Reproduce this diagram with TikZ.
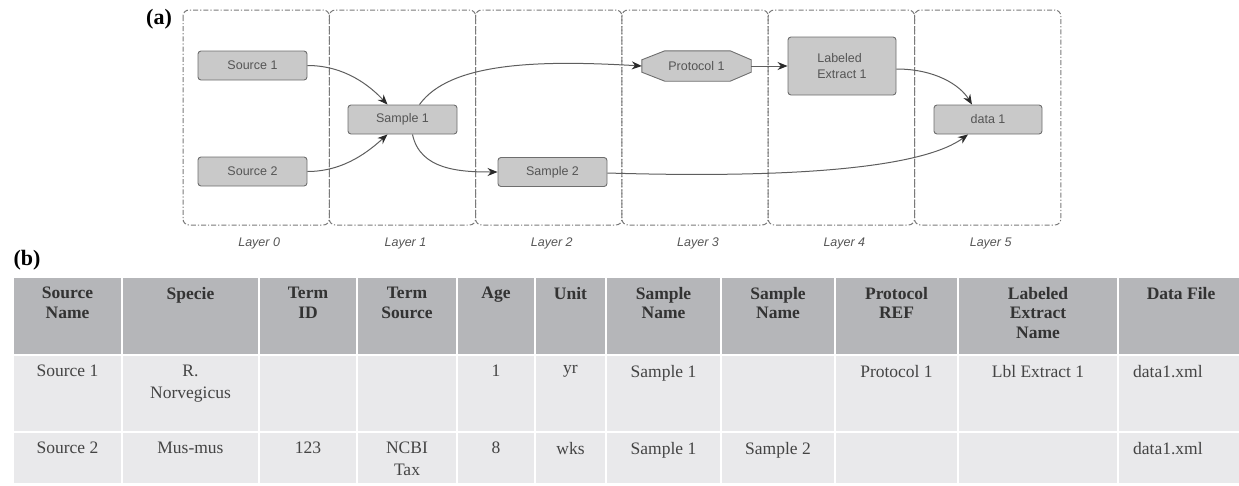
\documentclass[tikz,border=0pt]{standalone}
\usepackage{fontspec}
\setmainfont{Liberation Serif}
\setsansfont{Liberation Sans}
\usetikzlibrary{arrows.meta,calc,backgrounds}
\definecolor{nodefill}{HTML}{C9C9C9}
\definecolor{nodedraw}{HTML}{6E6E6E}
\definecolor{nodetext}{HTML}{555555}
\definecolor{layerline}{HTML}{7A7A7A}
\definecolor{edgecol}{HTML}{5E5E5E}
\definecolor{tipcol}{HTML}{2A2A2A}
\definecolor{hdrfill}{HTML}{B5B6B9}
\definecolor{bodyfill}{HTML}{E9E9EB}
\definecolor{hdrtext}{HTML}{333333}
\definecolor{bodytext}{HTML}{444444}
\tikzset{
  layerbox/.style={draw=layerline, line width=1pt, rounded corners=6pt,
    dash pattern=on 5pt off 2pt on 1.2pt off 2pt},
  layerlabel/.style={font=\sffamily\itshape\fontsize{12.5}{15}\selectfont, text=nodetext},
  box/.style={draw=nodedraw, fill=nodefill, rounded corners=3pt, line width=0.9pt,
    minimum width=109pt, minimum height=29pt, inner sep=0pt,
    font=\sffamily\fontsize{12.5}{16}\selectfont, text=nodetext},
  protobox/.style={minimum width=109pt, minimum height=30pt, inner sep=0pt,
    font=\sffamily\fontsize{12.5}{16}\selectfont, text=nodetext},
  octa/.style={draw=nodedraw, fill=nodefill, line width=0.9pt},
  edge/.style={draw=edgecol, line width=1pt, -{Stealth[length=10pt,width=8pt,color=tipcol]}},
  hdr/.style={anchor=north, align=center, inner sep=0pt, text=hdrtext,
    font=\bfseries\fontsize{17.5}{19.5}\selectfont},
  cell/.style={anchor=north, align=center, inner sep=0pt, text=bodytext,
    font=\fontsize{17.5}{21.5}\selectfont},
  panel/.style={font=\bfseries\fontsize{22}{24}\selectfont, inner sep=0pt}
}
\begin{document}
\begin{tikzpicture}[x=1pt,y=-1pt]
\useasboundingbox (0,0) rectangle (1239,485);
% panel labels
\node[panel] (pa) at (159,19) {(a)};
\node[panel] (pb) at (27,260) {(b)};
% layers
\foreach \i in {0,...,5} {
  \pgfmathsetmacro{\xl}{183+146.3*\i}
  \pgfmathsetmacro{\xr}{183+146.3*(\i+1)}
  \pgfmathsetmacro{\xc}{183+146.3*(\i+0.5)}
  \draw[layerbox] (\xl,10) rectangle (\xr,225);
  \node[layerlabel] (L\i) at (\xc+3,243) {Layer \i};
}
% nodes
\node[box] (s1) at (252.5,65.5) {Source 1};
\node[box] (s2) at (252.5,171.5) {Source 2};
\node[box] (sa1) at (402.5,119.5) {Sample 1};
\node[box] (sa2) at (552.5,172) {Sample 2};
\node[protobox] (p1) at (696.5,66) {Protocol 1};
\begin{scope}[on background layer]
\path[octa] ($(p1.north west)+(23,0)$) -- ($(p1.north east)+(-21,0)$)
  -- ($(p1.north east)+(0,9)$) -- ($(p1.south east)+(0,-9)$)
  -- ($(p1.south east)+(-21,0)$) -- ($(p1.south west)+(23,0)$)
  -- ($(p1.south west)+(0,-9)$) -- ($(p1.north west)+(0,9)$) -- cycle;
\end{scope}
\node[box, minimum width=108pt, minimum height=58pt, align=left] (le) at (842,66) {Labeled\\Extract 1};
\node[box, minimum width=108pt] (d1) at (988,119.5) {data 1};
% edges
\draw[edge] (s1.east) .. controls (345,65.5) and (370,86) .. ([xshift=-15pt]sa1.north);
\draw[edge] (s2.east) .. controls (345,171.5) and (370,150) .. ([xshift=-15pt]sa1.south);
\draw[edge] ([xshift=17pt]sa1.north) .. controls (450,62) and (540,60) .. (p1.west);
\draw[edge] ([xshift=10pt]sa1.south) .. controls (420,170) and (460,172) .. (sa2.west);
\draw[edge] (p1.east) -- (le.west);
\draw[edge] ([yshift=-3pt]le.east) .. controls (935,69) and (960,85) .. ([xshift=-16pt]d1.north);
\draw[edge] ([yshift=-1pt]sa2.east) .. controls (807,179) and (925,166) .. ([xshift=-20pt]d1.south);
% table backgrounds
\foreach \a/\b in {13/122,122/259,259/357,357/457,457/535,535/606,606/721,721/835,835/958,958/1118,1118/1241} {
  \fill[hdrfill] (\a+1,278) rectangle (\b-1,354);
  \fill[bodyfill] (\a+1,356) rectangle (\b-1,431);
  \fill[bodyfill] (\a+1,433) rectangle (\b-1,483);
}
% header
\foreach \x/\t [count=\i] in {67.5/{Source\\Name}, 190.5/{Specie}, 308/{Term\\ID},
  407/{Term\\Source}, 496/{Age}, 570.5/{Unit}, 663.5/{Sample\\Name}, 778/{Sample\\Name},
  896.5/{Protocol\\REF}, 1038/{Labeled\\Extract\\Name}, 1181/{Data File}}
  \node[hdr] (h\i) at (\x,287) {\t};
% row 1
\node[cell] (a1) at (67.5,365) {Source 1};
\node[cell] (a2) at (190.5,365) {R.\\Norvegicus};
\node[cell] (a5) at (496,365) {1};
\node[cell] (a6) at (570.5,365) {yr};
\node[cell] (a7) at (663.5,365) {Sample 1};
\node[cell] (a9) at (896.5,365) {Protocol 1};
\node[cell] (a10) at (1038,365) {Lbl Extract 1};
\node[cell, anchor=north west] (a11) at (1133,365) {data1.xml};
% row 2
\node[cell] (b1) at (67.5,442) {Source 2};
\node[cell] (b2) at (190.5,442) {Mus-mus};
\node[cell] (b3) at (308,442) {123};
\node[cell] (b4) at (407,442) {NCBI\\Tax};
\node[cell] (b5) at (496,442) {8};
\node[cell] (b6) at (570.5,442) {wks};
\node[cell] (b7) at (663.5,442) {Sample 1};
\node[cell] (b8) at (778,442) {Sample 2};
\node[cell, anchor=north west] (b11) at (1133,442) {data1.xml};
\end{tikzpicture}
\end{document}
